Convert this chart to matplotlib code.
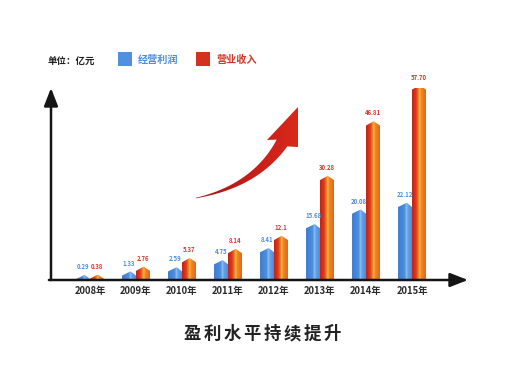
import numpy as np
import matplotlib
matplotlib.use('Agg')
import matplotlib.pyplot as plt
from matplotlib.patches import Polygon, Rectangle
from matplotlib.colors import LinearSegmentedColormap

plt.rcParams['font.family'] = ['Noto Sans CJK SC', 'DejaVu Sans']

# Data
years = ['2008年', '2009年', '2010年', '2011年', '2012年', '2013年', '2014年', '2015年']
profit = [0.29, 1.33, 2.59, 4.75, 8.41, 15.68, 20.08, 22.12]
revenue = [0.38, 2.76, 5.37, 8.14, 12.1, 30.28, 46.81, 57.70]
profit_labels = ['0.29', '1.33', '2.59', '4.75', '8.41', '15.68', '20.08', '22.12']
revenue_labels = ['0.38', '2.76', '5.37', '8.14', '12.1', '30.28', '46.81', '57.70']
series_names = ['经营利润', '营业收入']
unit_text = '单位：亿元'
title = '盈利水平持续提升'

W, H = 520, 371
fig = plt.figure(figsize=(W / 100, H / 100), dpi=100)
fig.patch.set_facecolor('white')

px_per_unit = 3.3
ax = fig.add_axes([51 / W, 1 - 280 / H, (468 - 51) / W, (280 - 88) / H])
xlim = (-0.848, 8.217)
ylim = (0, 192 / px_per_unit)

blue_cmap = LinearSegmentedColormap.from_list('b', [
    (0, '#3d7ccf'), (0.5, '#4f90de'), (0.6, '#8fc3f3'), (0.7, '#66a3e8'), (1, '#4c8cdb')])
red_cmap = LinearSegmentedColormap.from_list('r', [
    (0, '#c41f17'), (0.3, '#db3e1b'), (0.48, '#f08a26'), (0.56, '#f9c244'),
    (0.64, '#ef8b25'), (1, '#e4651e')])

bw = 0.304
roof = 1.3
grad = np.linspace(0, 1, 64).reshape(1, -1)


def draw_bar(x0, v, cmap, peak):
    x1 = x0 + bw
    xp = x0 + bw * peak
    poly = Polygon([(x0, 0), (x1, 0), (x1, v), (xp, v + roof), (x0, v)],
                   closed=True, facecolor='none', edgecolor='none')
    ax.add_patch(poly)
    im = ax.imshow(grad, cmap=cmap, extent=[x0, x1, 0, v + roof],
                   aspect='auto', interpolation='bilinear', zorder=2)
    im.set_clip_path(poly)


for i in range(len(years)):
    draw_bar(i - bw, profit[i], blue_cmap, 0.62)
    draw_bar(i, revenue[i], red_cmap, 0.55)
    ax.text(i - bw / 2, profit[i] + roof + 2.5, profit_labels[i], ha='center',
            va='center', fontsize=4.3, color='#4a8fdc', fontweight='bold')
    ax.text(i + bw / 2, revenue[i] + roof + 2.5, revenue_labels[i], ha='center',
            va='center', fontsize=4.3, color='#d2382c', fontweight='bold')
    ax.text(i, -11 / px_per_unit, years[i], ha='center', va='center',
            fontsize=6.8, fontweight='bold', color='#2a2a2a')

ax.set_xlim(*xlim)
ax.set_ylim(*ylim)
ax.axis('off')

# axis arrows
arrow_kw = dict(arrowstyle='-|>,head_length=0.9,head_width=0.35', lw=1.8,
                color='#151515', mutation_scale=12, shrinkA=0, shrinkB=0)
ax.annotate('', xy=(0, 1.0), xytext=(0, 0), xycoords='axes fraction',
            textcoords='axes fraction', arrowprops=arrow_kw)
ax.annotate('', xy=(1.0, 0), xytext=(-0.005, 0), xycoords='axes fraction',
            textcoords='axes fraction', arrowprops=arrow_kw)

# decoration overlay in pixel units
ov = fig.add_axes([0, 0, 1, 1], zorder=-1)
ov.patch.set_alpha(0)

# swoosh arrow
t = np.linspace(0, 1, 60)
p0, c, p1 = np.array([196, 198]), np.array([255, 186]), np.array([282, 143])
pts = ((1 - t) ** 2)[:, None] * p0 + (2 * (1 - t) * t)[:, None] * c + (t ** 2)[:, None] * p1
d = np.gradient(pts, axis=0)
d /= np.linalg.norm(d, axis=1)[:, None]
nrm = np.stack([d[:, 1], -d[:, 0]], axis=1)
wid = 0.3 + 6.0 * t ** 1.2
left = pts + nrm * wid[:, None]
right = pts - nrm * wid[:, None]
head = np.array([(267, 140), (298, 107), (298, 147)])
body = np.vstack([left, head, right[::-1]])
swoosh = Polygon(body, closed=True, facecolor='none', edgecolor='none')
ov.add_patch(swoosh)
sw_cmap = LinearSegmentedColormap.from_list('s', ['#a51418', '#c21d19', '#d9291a'])
im = ov.imshow(np.linspace(0, 1, 64).reshape(1, -1), cmap=sw_cmap,
               extent=[190, 300, 200, 100], aspect='auto', interpolation='bilinear')
im.set_clip_path(swoosh)
ov.set_xlim(0, W)
ov.set_ylim(H, 0)
ov.axis('off')

# legend
ov.text(48, 61, unit_text, ha='left', va='center', fontsize=6.8,
        fontweight='bold', color='#222222')
ov.add_patch(Rectangle((118, 52), 14, 14, facecolor='#4f91de', edgecolor='none'))
ov.text(138, 60, series_names[0], ha='left', va='center', fontsize=7.3,
        fontweight='bold', color='#4a8fdc')
ov.add_patch(Rectangle((196, 52), 14, 14, facecolor='#d3321e', edgecolor='none'))
ov.text(216, 60, series_names[1], ha='left', va='center', fontsize=7.3,
        fontweight='bold', color='#d2382c')

# title, spaced characters
for k, ch in enumerate(title):
    ov.text(192 + 20 * k, 334, ch, ha='center', va='center', fontsize=12.5,
            fontweight='bold', color='#222222')

fig.savefig('out.png', dpi=100)
